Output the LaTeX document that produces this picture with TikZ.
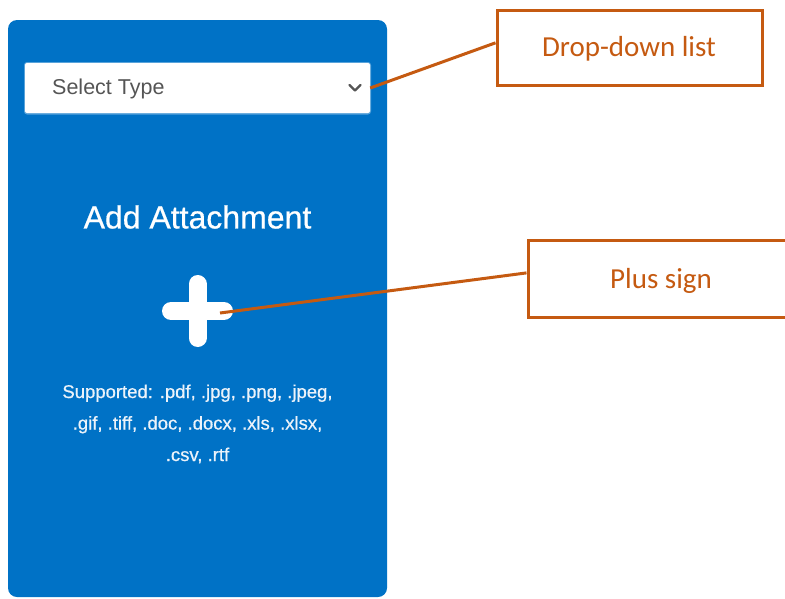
\documentclass[tikz,border=0pt]{standalone}
\usepackage{fontspec}
\setmainfont{Liberation Sans}
\newfontfamily\medfont[FakeBold=0.6]{Liberation Sans}
\newfontfamily\calloutfont{Carlito}
\usetikzlibrary{calc}
\definecolor{panelblue}{RGB}{0,114,198}
\definecolor{callout}{RGB}{197,90,17}
\definecolor{selgray}{RGB}{85,85,85}
\definecolor{softwhite}{RGB}{236,243,250}
\tikzset{
  calloutbox/.style={draw=callout, line width=3pt, fill=white, inner sep=0pt},
  callouttext/.style={text=callout, font=\calloutfont\fontsize{29}{34}\selectfont, inner sep=0pt},
  calloutline/.style={draw=callout, line width=3pt},
  paneltext/.style={text=softwhite, align=center, inner sep=0pt},
}
\begin{document}
\begin{tikzpicture}[x=1pt,y=-1pt]
\useasboundingbox (0,0) rectangle (785,598);
% upload panel
\fill[panelblue, rounded corners=9pt] (8,20) rectangle (387,597);
% drop-down field with its faint halo
\fill[white!35!panelblue, rounded corners=3pt] (24,62) rectangle (371,114.5);
\node[fill=white, rounded corners=2pt, minimum width=345pt, minimum height=50pt, inner sep=0pt]
  (dropdown) at (197.5,88) {};
\node[anchor=west, text=selgray, font=\fontsize{21.5}{26}\selectfont, inner sep=0pt]
  (seltext) at (52,88.5) {Select Type};
\draw[selgray, line width=2.4pt, line cap=round, line join=round]
  (349.5,85) -- (355,90.5) -- (360.5,85);
% heading
\node[paneltext, text=white, font=\medfont\fontsize{32}{38}\selectfont] (heading) at (197.5,217) {Add Attachment};
% plus sign
\node[minimum size=72pt, inner sep=0pt] (plus) at (197.5,311) {};
\draw[white, line width=18pt, line cap=round] (171,311) -- (224,311);
\draw[white, line width=18pt, line cap=round] (197.5,284) -- (197.5,338);
\coordinate (plustip) at (220,313);
% supported formats
\node[paneltext, font=\medfont\fontsize{18.5}{31.5}\selectfont] (formats) at (197.5,424)
  {Supported: .pdf, .jpg, .png, .jpeg,\\ .gif, .tiff, .doc, .docx, .xls, .xlsx,\\ .csv, .rtf};
% callouts
\node[calloutbox, minimum width=265pt, minimum height=75pt] (droplabel) at (629.5,47.5) {};
\node[callouttext] (droptext) at (629,49) {Drop-down list};
\node[calloutbox, minimum width=272pt, minimum height=77pt] (pluslabel) at (664,278.5) {};
\node[callouttext] (plustext) at (661,281) {Plus sign};
\draw[calloutline] (dropdown.east) -- ($(droplabel.north west)!0.44!(droplabel.south west)$);
\draw[calloutline] (plustip) -- ($(pluslabel.north west)!0.43!(pluslabel.south west)$);
\end{tikzpicture}
\end{document}
